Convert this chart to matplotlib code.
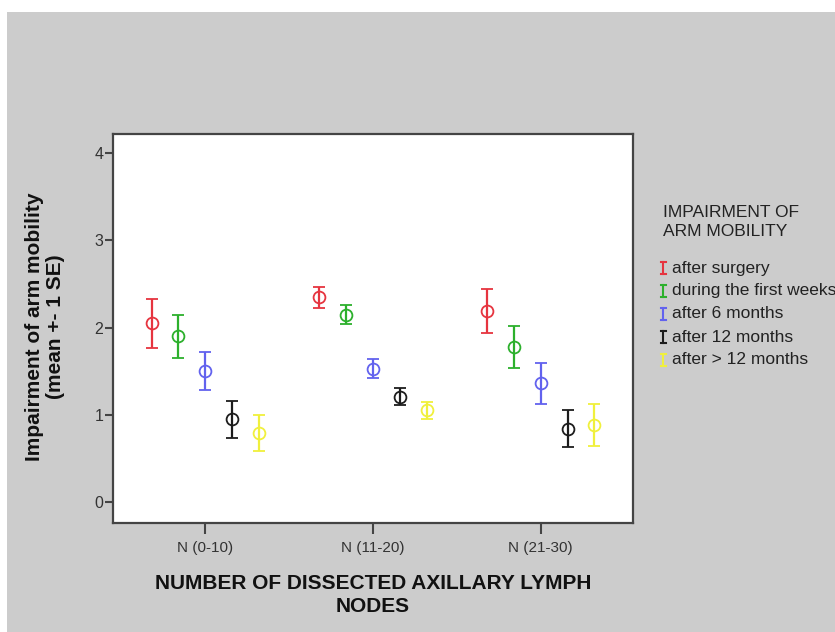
import matplotlib
matplotlib.use("Agg")
import matplotlib.pyplot as plt
from matplotlib.patches import Rectangle
from matplotlib.lines import Line2D
import numpy as np

plt.rcParams['font.family'] = ['Liberation Sans', 'DejaVu Sans']

groups = ["N (0-10)", "N (11-20)", "N (21-30)"]
periods = ["after surgery", "during the first weeks", "after 6 months",
           "after 12 months", "after > 12 months"]
colors = ["#e6343f", "#2cb02c", "#6262ee", "#1c1c1c", "#f0f03c"]

# mean impairment per period, one list per node group
means = [
    [2.05, 1.90, 1.50, 0.95, 0.79],
    [2.35, 2.15, 1.53, 1.21, 1.05],
    [2.19, 1.78, 1.36, 0.84, 0.88],
]
# one standard error
ses = [
    [0.28, 0.25, 0.22, 0.21, 0.21],
    [0.12, 0.11, 0.11, 0.10, 0.10],
    [0.25, 0.24, 0.23, 0.21, 0.24],
]

fig = plt.figure(figsize=(8.35, 6.32), dpi=100)
fig.patch.set_facecolor("white")
fig.add_artist(Rectangle((7 / 835, 0), 1, 1 - 12 / 632, transform=fig.transFigure,
                         facecolor="#cccccc", edgecolor="none", zorder=-10))

ax = fig.add_axes([113 / 835, 1 - 523 / 632, 520 / 835, 389 / 632])
ax.set_facecolor("white")

offsets = (np.arange(len(periods)) - 2) * 0.16
for j, (name, c) in enumerate(zip(periods, colors)):
    xs = np.arange(len(groups)) + offsets[j]
    ys = [m[j] for m in means]
    es = [s[j] for s in ses]
    ax.errorbar(xs, ys, yerr=es, fmt="o", mfc="none", mec=c, ms=8.5, mew=1.3,
                ecolor=c, elinewidth=1.6, capsize=4.5, capthick=2.4, label=name)

ax.set_xlim(-0.55, 2.55)
ax.set_ylim(-0.24, 4.22)
ax.set_xticks(range(len(groups)))
ax.set_xticklabels(groups, fontsize=11, color="#333333")
ax.set_yticks([0, 1, 2, 3, 4])
ax.tick_params(axis="y", length=6, width=1.5, color="#444444", labelsize=11.5,
               labelcolor="#333333", pad=1)
ax.tick_params(axis="x", length=8, width=1.5, color="#444444", pad=5)
for sp in ax.spines.values():
    sp.set_color("#444444")
    sp.set_linewidth(1.6)

fig.text(373 / 835, 1 - 595 / 632, "NUMBER OF DISSECTED AXILLARY LYMPH\nNODES",
         ha="center", va="center", fontsize=15, fontweight="bold",
         linespacing=1.3, color="#111111")
fig.text(45 / 835, 1 - 327 / 632, "Impairment of arm mobility\n(mean +- 1 SE)",
         ha="center", va="center", rotation=90, fontsize=15, fontweight="bold",
         linespacing=1.1, color="#111111")

# legend drawn by hand at the right of the plot
fig.text(663 / 835, 1 - 222 / 632, "IMPAIRMENT OF\nARM MOBILITY", ha="left",
         va="center", fontsize=12.5, color="#222222", linespacing=1.4)
for k, (name, c) in enumerate(zip(periods, colors)):
    yc = 268 + 23 * k
    x0 = 663
    for seg in ([(x0, x0), (yc - 6, yc + 6)], [(x0 - 2.5, x0 + 2.5), (yc - 6, yc - 6)],
                [(x0 - 2.5, x0 + 2.5), (yc + 6, yc + 6)]):
        fig.add_artist(Line2D([p / 835 for p in seg[0]], [1 - p / 632 for p in seg[1]],
                              transform=fig.transFigure, color=c, lw=1.5))
    fig.text(672 / 835, 1 - yc / 632, name, ha="left", va="center",
             fontsize=12.5, color="#222222")

fig.savefig("out.png", dpi=100)
